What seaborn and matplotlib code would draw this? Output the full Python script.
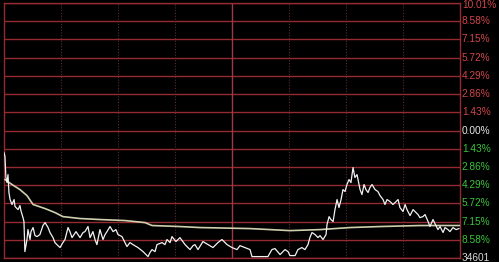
import numpy as np
import pandas as pd
import matplotlib
matplotlib.use("Agg")
import matplotlib.pyplot as plt
import seaborn as sns

# ---- data (minutes since open, percent change) ----
price_min = [0, 0.5, 1, 1.6, 2.1, 2.6, 3.2, 4.2, 5.3, 5.8, 7.4, 8.4, 8.9, 10, 10.5, 11, 12.1, 12.6,
             13.7, 14.2, 15.3, 16.3, 17.4, 18.9, 20.5, 21.6, 23.2, 24.2, 25.8, 26.8, 28.4, 29.5, 31,
             32.1, 33.7, 34.7, 35.8, 37.9, 40, 41.6, 42.6, 44.2, 45.3, 46.8, 47.9, 48.9, 50.5, 52.1,
             53.2, 54.2, 55.8, 57.4, 58.9, 60, 62.1, 63.7, 64.7, 66.3, 67.9, 70.5, 73.2, 75.8, 76.8,
             77.9, 79.5, 80.5, 83.2, 84.7, 85.8, 87.4, 88.4, 90.5, 92.6, 95.3, 97.9, 99.5, 100.5,
             102.1, 104.7, 107.4, 110, 112.6, 114.7, 117.4, 120, 122.6, 124.2, 126.8, 129.5, 130.5,
             138.9, 141, 142.6, 145.3, 147.9, 149.5, 150.5, 153.2, 154.7, 156.8, 158.4, 160, 161,
             162.1, 163.7, 165.3, 166.3, 167.9, 169.5, 170, 171.1, 172.1, 173.2, 174.2, 175.3, 176.3,
             177.4, 178.4, 179.5, 180.5, 181.6, 182.6, 183.7, 184.7, 185.8, 187.4, 188.4, 189.5,
             190.5, 191.6, 192.6, 193.7, 195.3, 196.8, 197.9, 199.5, 200.5, 201.6, 203.2, 204.7,
             205.8, 207.4, 208.4, 210, 211.1, 212.1, 213.7, 215.3, 216.3, 217.9, 218.9, 220.5, 221.6,
             223.2, 224.2, 225.8, 226.8, 228.4, 229.5, 231.1, 232.1, 233.7, 234.7, 236.3, 237.9, 239.5]
price_pct = [-1.73, -2.04, -3.69, -4.09, -3.46, -4.87, -5.42, -5.81, -5.42, -5.97, -6.21, -5.89, -6.29,
             -6.84, -7.15, -9.51, -8.56, -7.78, -8.56, -7.94, -7.62, -8.25, -8.33, -8.17, -7.46, -7.23,
             -7.62, -8.01, -8.41, -8.80, -9.04, -9.19, -8.80, -8.56, -7.62, -7.94, -8.41, -7.94, -8.41,
             -8.01, -7.94, -7.54, -8.41, -7.94, -8.56, -8.96, -7.78, -8.56, -8.17, -7.94, -7.54, -7.94,
             -7.78, -8.17, -8.33, -8.80, -9.11, -8.80, -8.96, -9.19, -9.51, -9.90, -9.59, -9.35, -9.51,
             -8.96, -8.80, -8.96, -8.56, -8.80, -8.33, -8.72, -8.41, -8.96, -9.35, -9.04, -8.96, -9.35,
             -8.72, -8.96, -9.19, -8.80, -8.56, -8.96, -9.19, -9.35, -9.04, -9.19, -9.35, -9.90, -9.90,
             -9.35, -9.27, -9.74, -9.35, -9.51, -9.82, -9.82, -9.35, -9.19, -9.35, -8.96, -8.41, -8.01,
             -8.17, -8.41, -8.25, -8.56, -8.17, -7.39, -6.76, -7.00, -7.15, -6.21, -5.42, -6.05, -5.42,
             -4.64, -4.79, -4.24, -3.85, -4.09, -2.91, -3.69, -3.46, -4.64, -5.03, -4.24, -4.64, -4.87,
             -4.48, -4.24, -4.64, -4.79, -5.11, -5.42, -5.81, -5.42, -5.58, -5.81, -5.66, -5.42, -6.05,
             -6.36, -5.81, -6.21, -6.68, -6.21, -6.36, -6.60, -6.84, -6.76, -6.60, -7.15, -7.54, -6.99,
             -7.31, -7.78, -7.54, -8.01, -7.62, -7.78, -7.94, -7.62, -7.78, -7.70]

avg_min = [0.5, 4.2, 8.4, 12.1, 15.3, 21.6, 26.8, 31, 40, 50.5, 63.7, 74.2, 77.9, 92.6, 103.2,
           129.5, 150.5, 166.3, 182.1, 197.9, 218.9, 240]
avg_pct = [-3.85, -4.24, -4.64, -5.11, -5.81, -6.13, -6.44, -6.76, -6.91, -6.99, -7.07, -7.23, -7.46,
           -7.54, -7.62, -7.70, -7.86, -7.78, -7.62, -7.54, -7.46, -7.46]

level_vals = [10.01, 8.58, 7.15, 5.72, 4.29, 2.86, 1.43, 0.00, -1.43, -2.86, -4.29, -5.72, -7.15, -8.58]
level_text = ["10.01%", "8.58%", "7.15%", "5.72%", "4.29%", "2.86%", "1.43%", "0.00%",
              "1.43%", "2.86%", "4.29%", "5.72%", "7.15%", "8.58%"]
bottom_label = "34601"
time_ticks = [30, 60, 90, 150, 180, 210]

price_df = pd.DataFrame({"minute": price_min, "pct": price_pct})
avg_df = pd.DataFrame({"minute": avg_min, "pct": avg_pct})

sns.set_style("dark")
plt.rcParams['font.family'] = ['Liberation Sans', 'DejaVu Sans']

fig = plt.figure(figsize=(4.99, 2.62), dpi=100, facecolor="black")
ax = fig.add_axes([4 / 499, 4 / 262, 456 / 499, 255 / 262])
ax.set_facecolor("black")

grid_red = "#952a30"
for v in level_vals + [-10.01]:
    ax.axhline(v, color=grid_red, lw=1.0, zorder=1)
for t in time_ticks:
    ax.axvline(t, color="#5e2a2a", lw=0.8, ls=(0, (1, 1.5)), zorder=1)
ax.axvline(120, color="#a03848", lw=1.0, zorder=1)

sns.lineplot(data=avg_df, x="minute", y="pct", ax=ax, color="#cfcfae", lw=1.2, zorder=3)
sns.lineplot(data=price_df, x="minute", y="pct", ax=ax, color="#f2f2f2", lw=0.9, zorder=4)

ax.set_xlim(0, 240)
ax.set_ylim(-10.01, 10.01)
ax.set_xticks([])
ax.set_yticks([])
ax.set_xlabel("")
ax.set_ylabel("")
ax.grid(False)
for s in ax.spines.values():
    s.set_visible(True)
    s.set_color(grid_red)
    s.set_linewidth(1.0)

for v, txt in zip(level_vals, level_text):
    col = "#d0454a" if v > 0 else ("#e8e8e8" if v == 0 else "#3cc43c")
    ypos = (v + 10.01) / 20.02
    if v == level_vals[0]:
        ax.text(1.004, 1.013, txt, transform=ax.transAxes, ha="left", va="top",
                fontsize=7.3, color=col, clip_on=False)
    else:
        ax.text(1.004, ypos, txt, transform=ax.transAxes, ha="left", va="center",
                fontsize=7.3, color=col, clip_on=False)
ax.text(1.004, 0.0, bottom_label, transform=ax.transAxes, ha="left", va="center",
        fontsize=7.3, color="#d8d8d8", clip_on=False)

fig.savefig("out.png", dpi=100, facecolor="black")
